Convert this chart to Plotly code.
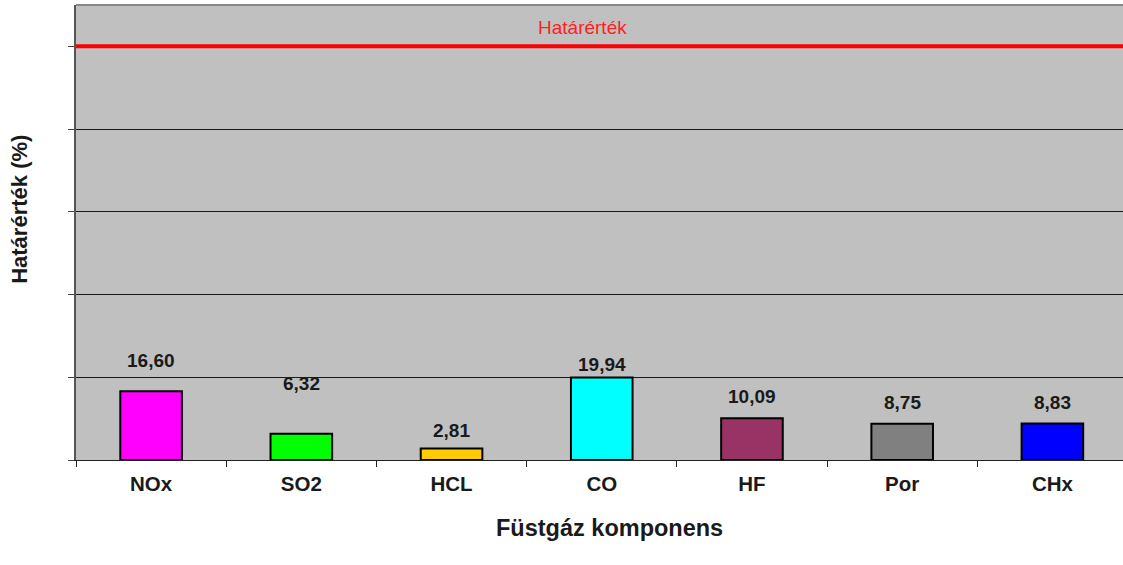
import plotly.graph_objects as go

categories = ["NOx", "SO2", "HCL", "CO", "HF", "Por", "CHx"]
values = [16.60, 6.32, 2.81, 19.94, 10.09, 8.75, 8.83]
value_labels = ["16,60", "6,32", "2,81", "19,94", "10,09", "8,75", "8,83"]
limit_value = 100
limit_label = "Határérték"

bar_colors = ["#FF00FF", "#00FF00", "#FFCC00", "#00FFFF", "#993366", "#808080", "#0000FF"]
label_shift = [31, 50, 18, 13, 22, 21, 21]

FONT = "Liberation Sans, Arial"

fig = go.Figure()
fig.add_trace(go.Bar(
    x=categories, y=values, width=0.41,
    marker=dict(color=bar_colors, line=dict(color="black", width=2)),
    showlegend=False, hoverinfo="skip",
))

for c, v, t, s in zip(categories, values, value_labels, label_shift):
    fig.add_annotation(x=c, y=v, text=f"<b>{t}</b>", showarrow=False,
                       yshift=s, font=dict(family=FONT, size=19, color="#1a1a1a"))

fig.add_annotation(xref="paper", x=0.484, yref="y", y=limit_value, yshift=19, text=limit_label,
                   showarrow=False, font=dict(family=FONT, size=19, color="#FF2020"))

# axis titles as annotations for exact placement
fig.add_annotation(xref="paper", yref="paper", x=-0.0535, y=0.552, textangle=-90,
                   text="<b>Határérték (%)</b>", showarrow=False,
                   xanchor="center", yanchor="middle",
                   font=dict(family=FONT, size=22, color="#1a1a1a"))
fig.add_annotation(xref="paper", yref="paper", x=0.51, y=-0.149,
                   text="<b>Füstgáz komponens</b>", showarrow=False,
                   xanchor="center", yanchor="middle",
                   font=dict(family=FONT, size=23.5, color="#1a1a1a"))

fig.update_layout(
    width=1123, height=565,
    margin=dict(l=76, r=0, t=5, b=105, autoexpand=False),
    paper_bgcolor="white", plot_bgcolor="#C0C0C0",
    font=dict(family=FONT, color="#1a1a1a"),
    xaxis=dict(
        type="category", showgrid=False, showline=True, linecolor="#222", linewidth=1,
        ticks="outside", ticklen=6, tickcolor="#222", tickson="boundaries",
        tickfont=dict(size=20.5, family=FONT, weight="bold"),
        ticklabelstandoff=5,
        automargin=False,
        range=[-0.5, 6.47],
    ),
    yaxis=dict(
        range=[0, 110], dtick=20, showticklabels=False,
        showgrid=True, gridcolor="#1a1a1a", gridwidth=1,
        showline=True, linecolor="#555", linewidth=2, mirror=False,
        ticks="outside", ticklen=6, tickcolor="#444",
        zeroline=False, automargin=False,
    ),
    shapes=[
        dict(type="line", xref="paper", yref="paper", x0=0, x1=1, y0=1, y1=1,
             line=dict(color="#888", width=2)),
        dict(type="line", xref="paper", x0=0, x1=1, yref="y", y0=limit_value, y1=limit_value,
             line=dict(color="#FF0000", width=4), layer="above"),
    ],
)

fig.write_html("out.html", config={"displayModeBar": False},
               post_script="document.body.style.margin='0';document.body.style.overflow='hidden';")
